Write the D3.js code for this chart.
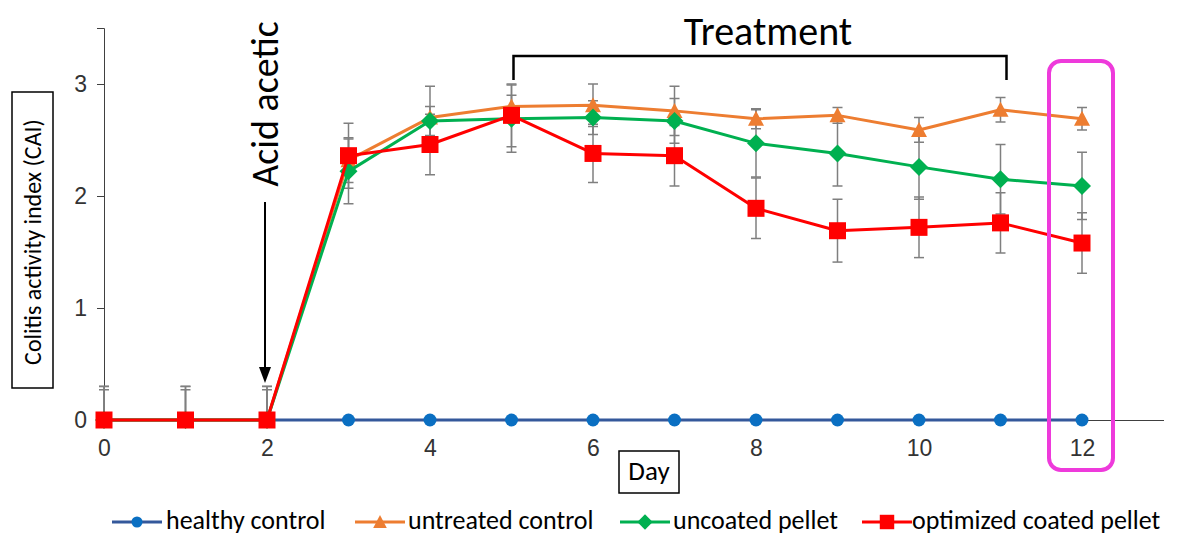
<!DOCTYPE html>
<html>
<head>
<meta charset="utf-8">
<script src="https://cdn.jsdelivr.net/npm/d3@7"></script>
<style>
  html, body { margin: 0; padding: 0; background: #fff; }
  svg { display: block; font-family: Carlito, Calibri, Lato, "Open Sans", sans-serif; }
</style>
</head>
<body>
<svg id="chart" width="1181" height="536"></svg>
<script>
// Colitis activity index per day, four groups
const days = [0, 1, 2, 3, 4, 5, 6, 7, 8, 9, 10, 11, 12];
const seriesNames = ["healthy control", "untreated control", "uncoated pellet", "optimized coated pellet"];
const healthyControl   = [0, 0, 0, 0, 0, 0, 0, 0, 0, 0, 0, 0, 0];
const untreatedControl = [0, 0, 0, 2.32, 2.70, 2.80, 2.81, 2.76, 2.69, 2.72, 2.59, 2.77, 2.69];
const uncoatedPellet   = [0, 0, 0, 2.22, 2.67, 2.69, 2.70, 2.67, 2.47, 2.38, 2.26, 2.15, 2.09];
const optimizedPellet  = [0, 0, 0, 2.36, 2.46, 2.72, 2.38, 2.36, 1.89, 1.69, 1.72, 1.76, 1.58];
// standard deviations
const healthyErr   = [0, 0, 0, 0, 0, 0, 0, 0, 0, 0, 0, 0, 0];
const untreatedErr = [0.30, 0.30, 0.30, 0.20, 0.28, 0.10, 0.19, 0.22, 0.09, 0.07, 0.11, 0.11, 0.10];
const uncoatedErr  = [0.27, 0.27, 0.27, 0.29, 0.13, 0.30, 0.15, 0.20, 0.30, 0.29, 0.29, 0.31, 0.30];
const optimizedErr = [0.30, 0.30, 0.30, 0.29, 0.27, 0.28, 0.26, 0.27, 0.27, 0.28, 0.27, 0.27, 0.27];
const yTicks = [0, 1, 2, 3];
const xTicks = [0, 2, 4, 6, 8, 10, 12];

const series = [
  { name: seriesNames[0], values: healthyControl,   err: healthyErr,   line: "#34589b", fill: "#0a6fc2", shape: "circle" },
  { name: seriesNames[1], values: untreatedControl, err: untreatedErr, line: "#ed7d31", fill: "#ed7d31", shape: "triangle" },
  { name: seriesNames[2], values: uncoatedPellet,   err: uncoatedErr,  line: "#00b050", fill: "#00b050", shape: "diamond" },
  { name: seriesNames[3], values: optimizedPellet,  err: optimizedErr, line: "#ff0000", fill: "#ff0000", shape: "square" }
];

const svg = d3.select("#chart");
const x = d3.scaleLinear().domain([0, 13]).range([104, 1163.5]);
const y = d3.scaleLinear().domain([0, 3.5]).range([420, 28]);

function markerPath(shape, s) {
  switch (shape) {
    case "circle":   return d3.symbol(d3.symbolCircle, Math.PI * 6.5 * 6.5 * s * s)();
    case "square":   { const h = 8.5 * s; return `M${-h},${-h}H${h}V${h}H${-h}Z`; }
    case "diamond":  { const h = 9 * s; return `M0,${-h}L${h},0L0,${h}L${-h},0Z`; }
    case "triangle": { const w = 8 * s, hh = 7 * s; return `M0,${-hh - 1}L${w},${hh}L${-w},${hh}Z`; }
  }
}

// axes
const yAxis = d3.axisLeft(y).tickValues(yTicks).tickSize(7).tickPadding(10).tickFormat(d3.format("d"));
const gy = svg.append("g").attr("transform", `translate(${x(0)},0)`).call(yAxis);
gy.select(".domain").attr("stroke", "#404040");
gy.selectAll(".tick line").attr("stroke", "#404040");
gy.selectAll(".tick text").attr("font-size", 23).attr("fill", "#333").attr("font-family", null);

const xAxis = d3.axisBottom(x).tickValues(xTicks).tickSize(0).tickPadding(20).tickFormat(d3.format("d"));
const gx = svg.append("g").attr("transform", `translate(0,${y(0)})`).call(xAxis);
gx.select(".domain").attr("stroke", "#404040");
gx.selectAll(".tick text").attr("font-size", 23).attr("fill", "#333").attr("font-family", null);

// plot clip for error bars
svg.append("clipPath").attr("id", "plotClip")
  .append("rect").attr("x", x(0) - 20).attr("y", y(3.5)).attr("width", x(13) - x(0) + 40).attr("height", y(0) - y(3.5));

const errG = svg.append("g").attr("clip-path", "url(#plotClip)");
series.forEach(s => {
  days.forEach((d, i) => {
    const e = s.err[i];
    if (!e) return;
    const cx = x(d), hi = y(s.values[i] + e), lo = y(s.values[i] - e);
    const g = errG.append("g").attr("stroke", "#7f7f7f").attr("stroke-width", 1.5);
    g.append("line").attr("x1", cx).attr("x2", cx).attr("y1", hi).attr("y2", lo);
    g.append("line").attr("x1", cx - 5).attr("x2", cx + 5).attr("y1", hi).attr("y2", hi);
    g.append("line").attr("x1", cx - 5).attr("x2", cx + 5).attr("y1", lo).attr("y2", lo);
  });
});

// series lines and markers
const lineGen = d3.line().x((d, i) => x(days[i])).y(d => y(d));
series.forEach(s => {
  svg.append("path").datum(s.values)
    .attr("d", lineGen).attr("fill", "none")
    .attr("stroke", s.line).attr("stroke-width", 3).attr("stroke-linejoin", "round");
  svg.append("g").selectAll("path").data(s.values).join("path")
    .attr("transform", (d, i) => `translate(${x(days[i])},${y(d)})`)
    .attr("d", markerPath(s.shape, 1))
    .attr("fill", s.fill);
});

// y title
svg.append("rect").attr("x", 12).attr("y", 92).attr("width", 41).attr("height", 296)
  .attr("fill", "none").attr("stroke", "#000").attr("stroke-width", 1.5);
svg.append("text").attr("transform", "translate(41,242) rotate(-90)")
  .attr("text-anchor", "middle").attr("font-size", 24).attr("fill", "#000")
  .text("Colitis activity index (CAI)");

// x title
svg.append("rect").attr("x", 619).attr("y", 451).attr("width", 60).attr("height", 42)
  .attr("fill", "none").attr("stroke", "#000").attr("stroke-width", 1.5);
svg.append("text").attr("x", 649).attr("y", 480).attr("text-anchor", "middle")
  .attr("font-size", 27).attr("fill", "#000").text("Day");

// acetic acid induction marker
const ax = x(2) - 2;
svg.append("line").attr("x1", ax).attr("x2", ax).attr("y1", 202).attr("y2", 370)
  .attr("stroke", "#000").attr("stroke-width", 2);
svg.append("path").attr("d", `M${ax - 6},367L${ax + 6},367L${ax},383Z`).attr("fill", "#000");
svg.append("text").attr("transform", `translate(${ax + 13},104) rotate(-90)`)
  .attr("text-anchor", "middle").attr("font-size", 38).attr("fill", "#000").text("Acid acetic");

// treatment period bracket
const bx1 = x(5) + 2, bx2 = x(11) + 6;
svg.append("path").attr("d", `M${bx1},80V56H${bx2}V80`).attr("fill", "none")
  .attr("stroke", "#000").attr("stroke-width", 2.5);
svg.append("text").attr("x", 768).attr("y", 45).attr("text-anchor", "middle")
  .attr("font-size", 40).attr("fill", "#000").text("Treatment");

// highlight of final day
svg.append("rect").attr("x", x(12) - 33).attr("y", 61).attr("width", 64).attr("height", 409)
  .attr("rx", 12).attr("fill", "none").attr("stroke", "#ee3adb").attr("stroke-width", 4);

// legend
const legendItems = [
  { x0: 112, tx: 166 },
  { x0: 355, tx: 408 },
  { x0: 620, tx: 673 },
  { x0: 862, tx: 912 }
];
const legend = svg.append("g");
series.forEach((s, i) => {
  const li = legendItems[i];
  const ly = 522;
  legend.append("line").attr("x1", li.x0).attr("x2", li.x0 + 50).attr("y1", ly).attr("y2", ly)
    .attr("stroke", s.line).attr("stroke-width", 3);
  legend.append("path").attr("transform", `translate(${li.x0 + 25},${ly})`)
    .attr("d", markerPath(s.shape, 0.85)).attr("fill", s.fill);
  legend.append("text").attr("x", li.tx).attr("y", 529).attr("font-size", 26)
    .attr("fill", "#000").text(s.name);
});
</script>
</body>
</html>
